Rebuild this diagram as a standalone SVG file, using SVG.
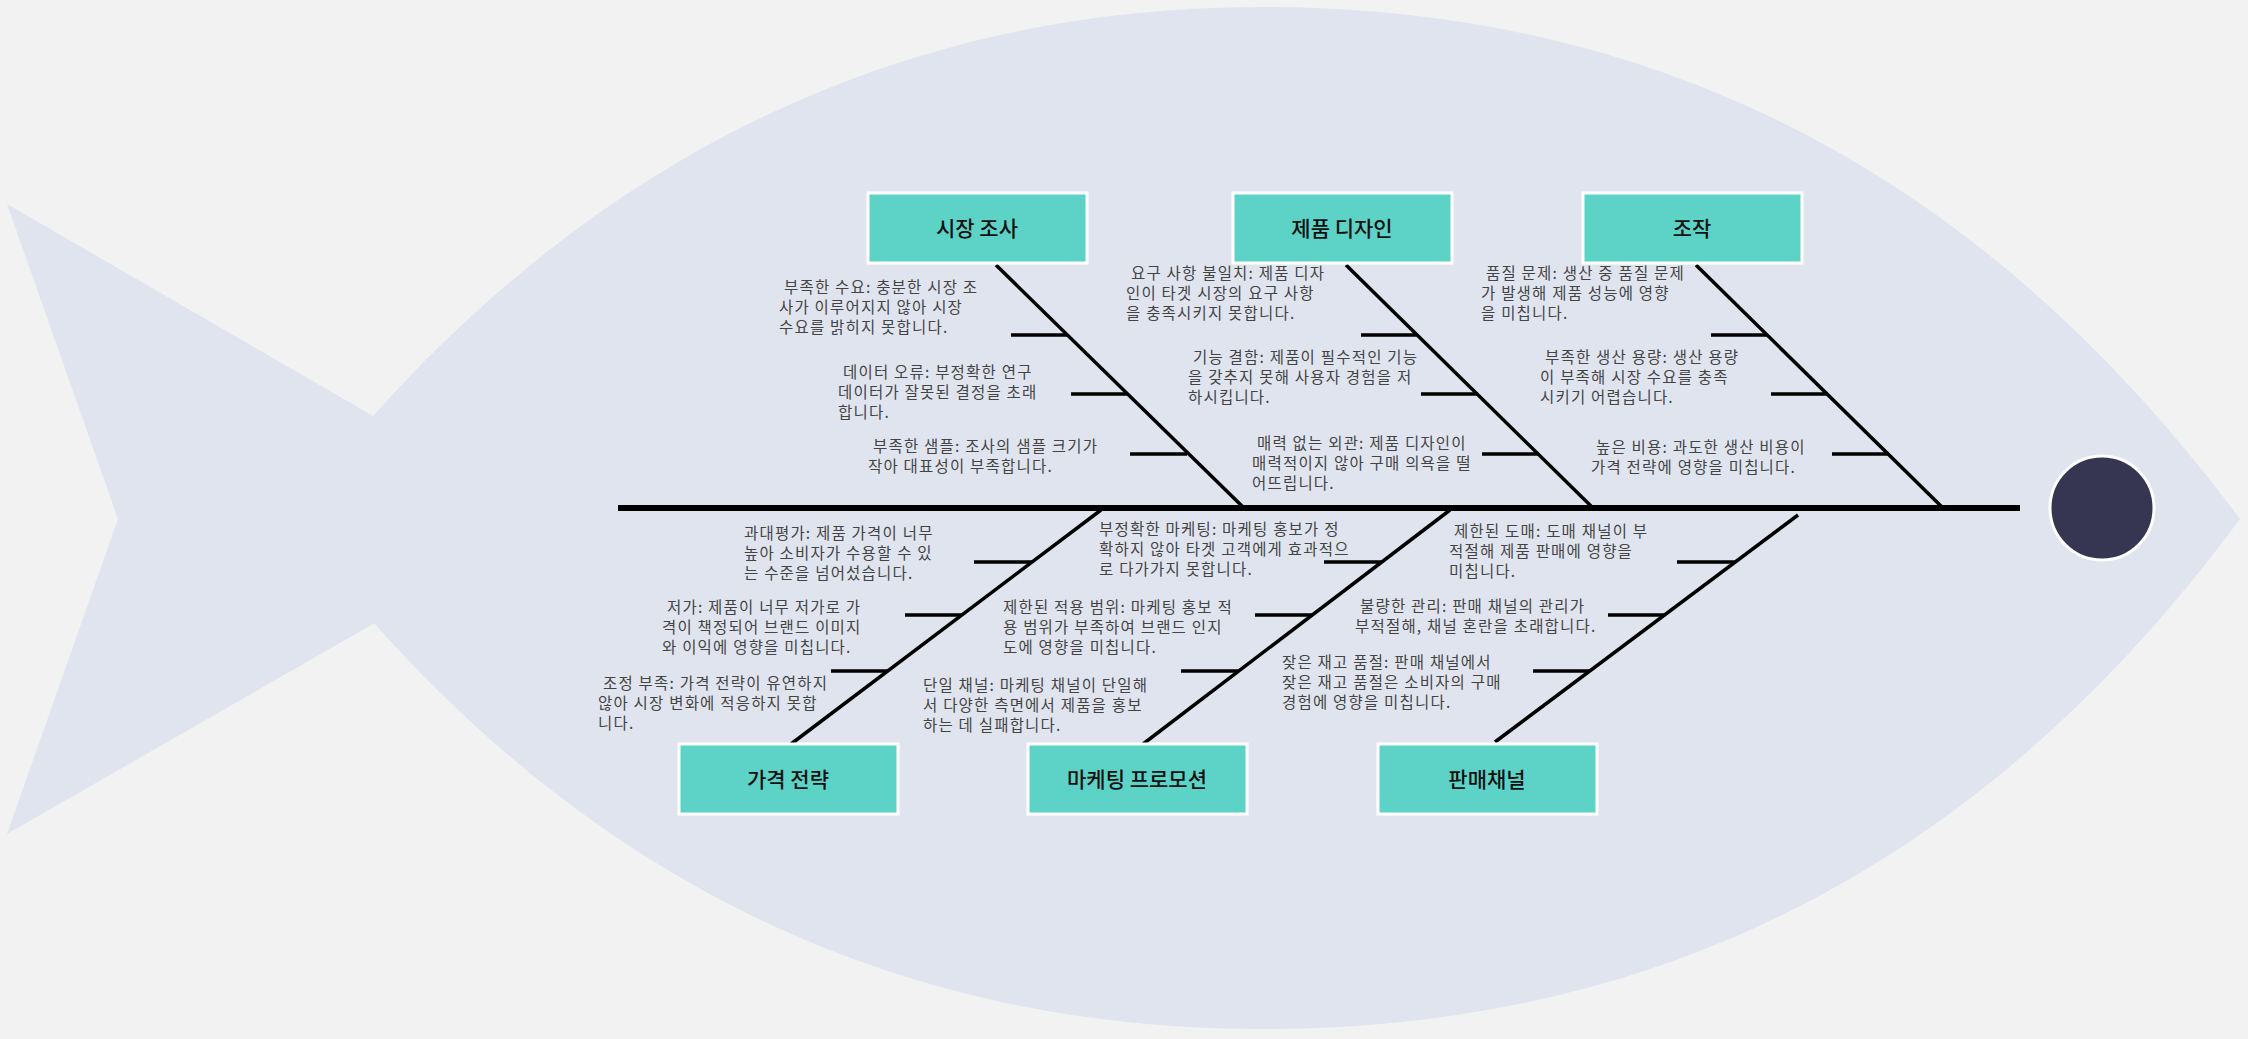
<svg xmlns="http://www.w3.org/2000/svg" width="2248" height="1039" viewBox="0 0 2248 1039">
<style>
.bg{fill:#f2f2f2}
.fish{fill:#e0e4ef}
.box rect{fill:#5dd3c7;stroke:#ffffff;stroke-width:3}
.box text{font-family:"Noto Sans CJK KR","Noto Sans",sans-serif;font-size:21px;font-weight:500;fill:#111;text-anchor:middle}
.bone{stroke:#000;stroke-width:3.5;fill:none}
.tick{stroke:#000;stroke-width:3.5}
.note{font-family:"Noto Sans CJK KR","Noto Sans",sans-serif;font-size:15.5px;fill:#444;letter-spacing:1.2px}
</style>
<rect class="bg" x="0" y="0" width="2248" height="1039"/>
<g id="fish">
<polygon class="fish" points="7,204 380,420 380,620 7,834 118,519"/>
<path class="fish" d="M373,416 C 620,140 920,7 1262,7 C 1700,7 2010,210 2240,519 C 2010,830 1700,1029 1262,1029 C 920,1029 620,900 373,622 Z"/>
</g>
<g id="connectors">
<line class="bone" x1="618" y1="508" x2="2020" y2="508" style="stroke-width:6"/>
<line class="bone" x1="996" y1="265" x2="1244" y2="508"/>
<line class="bone" x1="1346" y1="265" x2="1593" y2="508"/>
<line class="bone" x1="1696" y1="265" x2="1943" y2="508"/>
<line class="bone" x1="1101" y1="510" x2="791" y2="744"/>
<line class="bone" x1="1450" y1="510" x2="1143" y2="744"/>
<line class="bone" x1="1798" y1="515" x2="1495" y2="742"/>
<line class="tick" x1="1011" y1="335" x2="1068" y2="335"/>
<line class="tick" x1="1071" y1="394" x2="1128" y2="394"/>
<line class="tick" x1="1130" y1="454" x2="1187" y2="454"/>
<line class="tick" x1="1361" y1="335" x2="1418" y2="335"/>
<line class="tick" x1="1421" y1="394" x2="1478" y2="394"/>
<line class="tick" x1="1482" y1="454" x2="1539" y2="454"/>
<line class="tick" x1="1711" y1="335" x2="1768" y2="335"/>
<line class="tick" x1="1771" y1="394" x2="1828" y2="394"/>
<line class="tick" x1="1832" y1="454" x2="1889" y2="454"/>
<line class="tick" x1="974" y1="562" x2="1032" y2="562"/>
<line class="tick" x1="905" y1="615" x2="962" y2="615"/>
<line class="tick" x1="831" y1="671" x2="888" y2="671"/>
<line class="tick" x1="1324" y1="562" x2="1382" y2="562"/>
<line class="tick" x1="1255" y1="615" x2="1312" y2="615"/>
<line class="tick" x1="1181" y1="671" x2="1239" y2="671"/>
<line class="tick" x1="1677" y1="562" x2="1735" y2="562"/>
<line class="tick" x1="1608" y1="615" x2="1665" y2="615"/>
<line class="tick" x1="1533" y1="671" x2="1590" y2="671"/>
</g>
<g id="head"><circle cx="2102" cy="508" r="52" fill="#363552" stroke="#ffffff" stroke-width="3"/></g>
<g id="n1" class="box"><rect x="868" y="193" width="219" height="70"/><text x="977" y="236">시장 조사</text></g>
<g id="n2" class="box"><rect x="1233" y="193" width="219" height="70"/><text x="1342" y="236">제품 디자인</text></g>
<g id="n3" class="box"><rect x="1583" y="193" width="219" height="70"/><text x="1692" y="236">조작</text></g>
<g id="n4" class="box"><rect x="679" y="744" width="219" height="70"/><text x="788" y="787">가격 전략</text></g>
<g id="n5" class="box"><rect x="1028" y="744" width="219" height="70"/><text x="1137" y="787">마케팅 프로모션</text></g>
<g id="n6" class="box"><rect x="1378" y="744" width="219" height="70"/><text x="1487" y="787">판매채널</text></g>
<g id="notes" class="note">
<text x="784" y="293">부족한 수요: 충분한 시장 조</text><text x="779" y="313">사가 이루어지지 않아 시장</text><text x="779" y="333">수요를 밝히지 못합니다.</text>
<text x="843" y="378">데이터 오류: 부정확한 연구</text><text x="838" y="398">데이터가 잘못된 결정을 초래</text><text x="838" y="418">합니다.</text>
<text x="873" y="452">부족한 샘플: 조사의 샘플 크기가</text><text x="868" y="472">작아 대표성이 부족합니다.</text>
<text x="1131" y="279">요구 사항 불일치: 제품 디자</text><text x="1126" y="299">인이 타겟 시장의 요구 사항</text><text x="1126" y="319">을 충족시키지 못합니다.</text>
<text x="1193" y="363">기능 결함: 제품이 필수적인 기능</text><text x="1188" y="383">을 갖추지 못해 사용자 경험을 저</text><text x="1188" y="403">하시킵니다.</text>
<text x="1257" y="449">매력 없는 외관: 제품 디자인이</text><text x="1252" y="469">매력적이지 않아 구매 의욕을 떨</text><text x="1252" y="489">어뜨립니다.</text>
<text x="1486" y="279">품질 문제: 생산 중 품질 문제</text><text x="1481" y="299">가 발생해 제품 성능에 영향</text><text x="1481" y="319">을 미칩니다.</text>
<text x="1545" y="363">부족한 생산 용량: 생산 용량</text><text x="1540" y="383">이 부족해 시장 수요를 충족</text><text x="1540" y="403">시키기 어렵습니다.</text>
<text x="1596" y="453">높은 비용: 과도한 생산 비용이</text><text x="1591" y="473">가격 전략에 영향을 미칩니다.</text>
<text x="744" y="539">과대평가: 제품 가격이 너무</text><text x="744" y="559">높아 소비자가 수용할 수 있</text><text x="744" y="579">는 수준을 넘어섰습니다.</text>
<text x="667" y="613">저가: 제품이 너무 저가로 가</text><text x="662" y="633">격이 책정되어 브랜드 이미지</text><text x="662" y="653">와 이익에 영향을 미칩니다.</text>
<text x="603" y="689">조정 부족: 가격 전략이 유연하지</text><text x="598" y="709">않아 시장 변화에 적응하지 못합</text><text x="598" y="729">니다.</text>
<text x="1099" y="535">부정확한 마케팅: 마케팅 홍보가 정</text><text x="1099" y="555">확하지 않아 타겟 고객에게 효과적으</text><text x="1099" y="575">로 다가가지 못합니다.</text>
<text x="1003" y="613">제한된 적용 범위: 마케팅 홍보 적</text><text x="1003" y="633">용 범위가 부족하여 브랜드 인지</text><text x="1003" y="653">도에 영향을 미칩니다.</text>
<text x="923" y="691">단일 채널: 마케팅 채널이 단일해</text><text x="923" y="711">서 다양한 측면에서 제품을 홍보</text><text x="923" y="731">하는 데 실패합니다.</text>
<text x="1454" y="537">제한된 도매: 도매 채널이 부</text><text x="1449" y="557">적절해 제품 판매에 영향을</text><text x="1449" y="577">미칩니다.</text>
<text x="1360" y="612">불량한 관리: 판매 채널의 관리가</text><text x="1355" y="632">부적절해, 채널 혼란을 초래합니다.</text>
<text x="1282" y="668">잦은 재고 품절: 판매 채널에서</text><text x="1282" y="688">잦은 재고 품절은 소비자의 구매</text><text x="1282" y="708">경험에 영향을 미칩니다.</text>
</g>
</svg>
